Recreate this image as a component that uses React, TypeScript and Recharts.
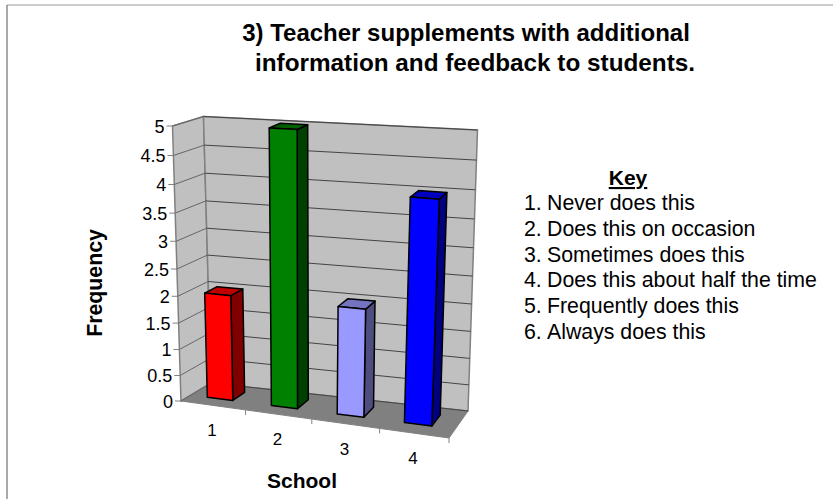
import React from 'react';
import { BarChart, Bar, XAxis, YAxis, CartesianGrid, Customized } from 'recharts';

const schools = ['1', '2', '3', '4'];
const frequency = [2, 5, 2, 4];
const yTicks = [0, 0.5, 1, 1.5, 2, 2.5, 3, 3.5, 4, 4.5, 5];
const faceColors = ['#FF0000', '#008000', '#9999FF', '#0000FF'];
const sideColors = ['#800000', '#004000', '#4D4D80', '#000080'];
const topColors = ['#C00000', '#006000', '#7373BF', '#0000C0'];
const keyLines = ['Never does this', 'Does this on occasion', 'Sometimes does this', 'Does this about half the time', 'Frequently does this', 'Always does this'];
const keyNumbers = ['1.', '2.', '3.', '4.', '5.', '6.'];
const titleLines = ['3) Teacher supplements with additional', 'information and feedback to students.'];

const chartData = schools.map((school, i) => ({ school, frequency: frequency[i] }));

const L = 100, T = 100, W = 400, H = 300, B = T + H;
const FONT = '"Liberation Sans", Arial, sans-serif';

type Pt = [number, number];
const FL0: Pt = [181, 401], FR0: Pt = [449, 438], BL0: Pt = [211, 383], BR0: Pt = [468, 411];
const FL1: Pt = [172.5, 126], FR1: Pt = [461, 144], BL1: Pt = [203.5, 116.5], BR1: Pt = [477.5, 130];

const mix = (a: Pt, b: Pt, t: number): Pt => [a[0] + (b[0] - a[0]) * t, a[1] + (b[1] - a[1]) * t];
const warpU = (u: number) => u * (1 - 0.048 * (1 - u));
const warpV = (v: number) => v * (1 - 0.08 * (1 - v));
const proj = (uRaw: number, vRaw: number, d: number): Pt => {
  const u = warpU(uRaw);
  const bottom = mix(mix(FL0, FR0, u), mix(BL0, BR0, u), d);
  const top = mix(mix(FL1, FR1, u), mix(BL1, BR1, u), d);
  return mix(bottom, top, warpV(vRaw));
};
const pts = (list: Pt[]) => list.map((p) => `${p[0].toFixed(1)},${p[1].toFixed(1)}`).join(' ');

const Box3D = (props: any) => {
  const { x, y, width, height, index } = props;
  const u0 = (x - L) / W - 0.01, u1 = (x + width - L) / W - 0.01;
  const v1 = (B - y) / H, v0 = (B - (y + height)) / H;
  const d0 = 0.33, d1 = 0.75;
  const a = proj(u0, v0, d0), b = proj(u1, v0, d0), c = proj(u1, v1, d0), e = proj(u0, v1, d0);
  const f = proj(u1, v0, d1), g = proj(u1, v1, d1), h = proj(u0, v1, d1);
  const common = { stroke: '#000', strokeWidth: 1.5, strokeLinejoin: 'round' as const };
  return (
    <g>
      <polygon points={pts([b, f, g, c])} fill={sideColors[index]} {...common} />
      <polygon points={pts([e, c, g, h])} fill={topColors[index]} {...common} />
      <polygon points={pts([a, b, c, e])} fill={faceColors[index]} {...common} />
    </g>
  );
};

const YTick = (props: any) => {
  const { y, payload } = props;
  const v = (B - y) / H;
  const p = proj(0, v, 0);
  return (
    <g>
      <line x1={p[0] - 6} y1={p[1]} x2={p[0]} y2={p[1]} stroke="#808080" strokeWidth={1} />
      <text x={p[0] - 8} y={p[1] + 0.5} textAnchor="end" dominantBaseline="central" fontFamily={FONT} fontSize={18} fill="#000">
        {payload.value}
      </text>
    </g>
  );
};

const XTick = (props: any) => {
  const { x, payload } = props;
  const u = (x - L) / W;
  const p = proj(u, 0, 0);
  const edge = proj(u + 0.125, 0, 0);
  return (
    <g>
      <line x1={edge[0]} y1={edge[1]} x2={edge[0]} y2={edge[1] + 5} stroke="#808080" strokeWidth={1} />
      <text x={p[0] - 1} y={p[1] + 25.5} textAnchor="middle" dominantBaseline="central" fontFamily={FONT} fontSize={17} fill="#000">
        {payload.value}
      </text>
    </g>
  );
};

const Walls = () => (
  <g>
    <polygon points={pts([FL1, BL1, BL0, FL0])} fill="#C0C0C0" stroke="#808080" strokeWidth={1.5} />
    <polygon points={pts([BL1, BR1, BR0, BL0])} fill="#C0C0C0" stroke="#808080" strokeWidth={1.5} />
    <polygon points={pts([FL0, BL0, BR0, FR0])} fill="#808080" stroke="#808080" strokeWidth={1} />
  </g>
);

const gridLine = (props: any) => {
  const v = (B - props.y1) / H;
  const a = proj(0, v, 0), b = proj(0, v, 1), c = proj(1, v, 1);
  return (
    <g key={`g-${props.y1}`}>
      {Math.abs(v) < 1e-6 ? <Walls /> : null}
      <polyline points={pts([a, b])} fill="none" stroke="#666" strokeWidth={1} />
      <polyline points={pts([b, c])} fill="none" stroke="#444" strokeWidth={1} />
    </g>
  );
};

const Texts = () => (
  <g fontFamily={FONT} fill="#000">
    <line x1={7} y1={5} x2={833} y2={5} stroke="#999" strokeWidth={1} />
    <line x1={7} y1={5} x2={7} y2={499} stroke="#555" strokeWidth={1} />
    <text x={466} y={41} textAnchor="middle" fontSize={24} fontWeight="bold">{titleLines[0]}</text>
    <text x={475} y={71} textAnchor="middle" fontSize={24.3} fontWeight="bold">{titleLines[1]}</text>
    <text x={0} y={0} transform="translate(102,283) rotate(-90)" textAnchor="middle" fontSize={21.3} fontWeight="bold">Frequency</text>
    <text x={302} y={488} textAnchor="middle" fontSize={21} fontWeight="bold">School</text>
    <text x={628} y={185} textAnchor="middle" fontSize={21} fontWeight="bold" textDecoration="underline">Key</text>
    {keyLines.map((line, i) => (
      <g key={line}>
        <text x={524} y={210 + i * 25.8} fontSize={21.3}>{keyNumbers[i]}</text>
        <text x={547} y={210 + i * 25.8} fontSize={21.3}>{line}</text>
      </g>
    ))}
  </g>
);

export default function App() {
  return (
    <div style={{ position: 'absolute', left: 0, top: 0, width: 833, height: 499 }}>
      <BarChart width={833} height={499} data={chartData} margin={{ left: 40, top: T, right: 833 - L - W, bottom: 499 - B - 30 }} barCategoryGap="30%">
        <CartesianGrid vertical={false} horizontal={gridLine} />
        <XAxis dataKey="school" height={30} axisLine={false} tickLine={false} tick={(p: any) => <XTick {...p} />} interval={0} />
        <YAxis width={60} domain={[0, 5]} ticks={yTicks} axisLine={false} tickLine={false} tick={(p: any) => <YTick {...p} />} interval={0} />
        <Bar dataKey="frequency" isAnimationActive={false} shape={(p: any) => <Box3D {...p} />} />
        <Customized component={Texts} />
      </BarChart>
    </div>
  );
}
